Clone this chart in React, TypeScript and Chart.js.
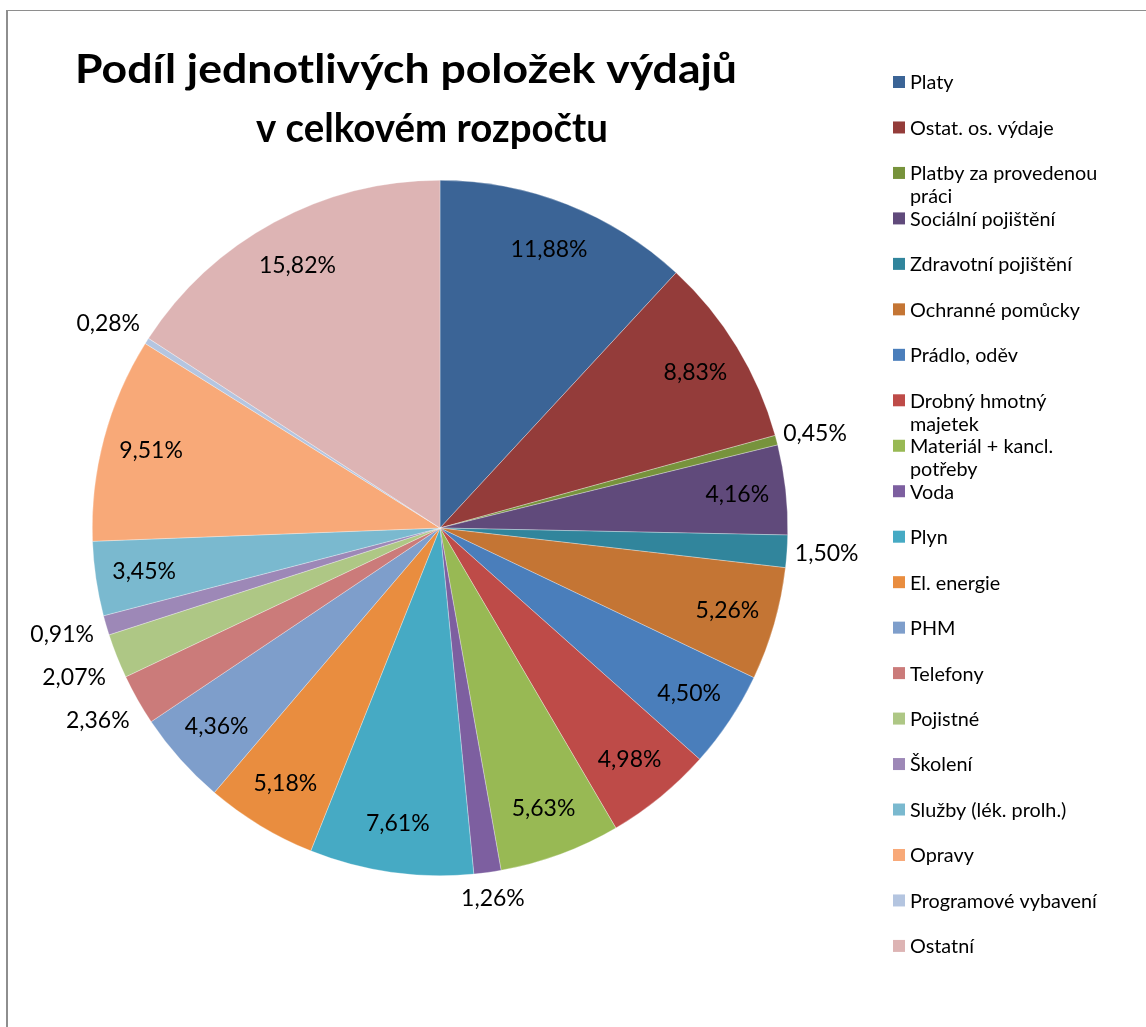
import React, { useEffect, useRef } from "react";
import { Chart, registerables } from "chart.js";

Chart.register(...registerables);

const TITLE_LINES = ["Podíl jednotlivých položek výdajů", "v celkovém rozpočtu"];

const CATEGORIES = [
  "Platy",
  "Ostat. os. výdaje",
  "Platby za provedenou práci",
  "Sociální pojištění",
  "Zdravotní pojištění",
  "Ochranné pomůcky",
  "Prádlo, oděv",
  "Drobný hmotný majetek",
  "Materiál + kancl. potřeby",
  "Voda",
  "Plyn",
  "El. energie",
  "PHM",
  "Telefony",
  "Pojistné",
  "Školení",
  "Služby (lék. prolh.)",
  "Opravy",
  "Programové vybavení",
  "Ostatní",
];

const VALUES = [
  11.88, 8.83, 0.45, 4.16, 1.5, 5.26, 4.5, 4.98, 5.63, 1.26, 7.61, 5.18, 4.36,
  2.36, 2.07, 0.91, 3.45, 9.51, 0.28, 15.82,
];

const COLORS = [
  "#3B6496",
  "#943C3A",
  "#77933C",
  "#604A7B",
  "#31859C",
  "#C47534",
  "#4A7EBB",
  "#BE4B48",
  "#98B954",
  "#7D5FA0",
  "#46AAC4",
  "#E98D3F",
  "#7E9ECB",
  "#CB7B7A",
  "#AEC785",
  "#9D88B7",
  "#7AB9CF",
  "#F8A978",
  "#B4C5E0",
  "#DDB4B4",
];

const FONT = "Lato, 'Open Sans', sans-serif";
const W = 1146;
const H = 1027;

function fitSize(ctx: CanvasRenderingContext2D, text: string, weight: string, target: number) {
  ctx.font = `${weight} 100px ${FONT}`;
  const w = ctx.measureText(text).width;
  return (100 * target) / w;
}

function wrap(ctx: CanvasRenderingContext2D, text: string, maxW: number) {
  const words = text.split(" ");
  const lines: string[] = [];
  let cur = "";
  for (const wd of words) {
    const t = cur ? cur + " " + wd : wd;
    if (ctx.measureText(t).width > maxW && cur) {
      lines.push(cur);
      cur = wd;
    } else cur = t;
  }
  if (cur) lines.push(cur);
  return lines;
}

function drawFitted(ctx: CanvasRenderingContext2D, text: string, cx: number, base: number, width: number) {
  const w = ctx.measureText(text).width;
  ctx.save();
  ctx.translate(cx, base);
  ctx.scale(width / w, 1);
  ctx.fillText(text, 0, 0);
  ctx.restore();
}

const decorPlugin = {
  id: "decor",
  afterDraw(chart: any) {
    const ctx: CanvasRenderingContext2D = chart.ctx;
    ctx.save();
    // Title
    ctx.font = `bold 40px ${FONT}`;
    ctx.fillStyle = "#000";
    ctx.textAlign = "center";
    ctx.textBaseline = "alphabetic";
    drawFitted(ctx, TITLE_LINES[0], 406, 83, 662);
    drawFitted(ctx, TITLE_LINES[1], 432, 142, 352);

    // Legend
    const ls = fitSize(ctx, "Programové vybavení", "normal", 187);
    ctx.font = `${ls}px ${FONT}`;
    ctx.textAlign = "left";
    ctx.textBaseline = "middle";
    const top = 82;
    const step = 45.47;
    CATEGORIES.forEach((c, i) => {
      const cy = top + i * step;
      ctx.fillStyle = COLORS[i];
      ctx.fillRect(893, cy - 6, 12, 12);
      ctx.fillStyle = "#000";
      const lines = wrap(ctx, c, 198);
      lines.forEach((ln, j) => ctx.fillText(ln, 910, cy + 1 + j * 23));
    });
    ctx.restore();
  },
};

const labelPlugin = {
  id: "sliceLabels",
  afterDatasetsDraw(chart: any) {
    const ctx: CanvasRenderingContext2D = chart.ctx;
    const meta = chart.getDatasetMeta(0);
    const total = VALUES.reduce((a, b) => a + b, 0);
    ctx.save();
    ctx.font = `23px ${FONT}`;
    ctx.fillStyle = "#000";
    ctx.textAlign = "center";
    ctx.textBaseline = "middle";
    const outside: { text: string; x: number; y: number; ux: number; w: number }[] = [];
    meta.data.forEach((arc: any, i: number) => {
      const { x, y, startAngle, endAngle, outerRadius } = arc.getProps(
        ["x", "y", "startAngle", "endAngle", "outerRadius"],
        true
      );
      const mid = (startAngle + endAngle) / 2;
      const ux = Math.cos(mid);
      const uy = Math.sin(mid);
      const text = VALUES[i].toFixed(2).replace(".", ",") + "%";
      const pct = (VALUES[i] / total) * 100;
      if (pct >= 3) {
        const r = outerRadius * 0.86;
        ctx.fillText(text, x + ux * r, y + uy * r);
      } else {
        const w = ctx.measureText(text).width;
        const h = 36;
        const gap = ux < 0 ? 14 : 8;
        const px = x + ux * (outerRadius + gap);
        const py = y + uy * (outerRadius + gap);
        outside.push({ text, x: px + (ux * w) / 2, y: py + (uy * h) / 2, ux, w });
      }
    });
    // simple vertical de-overlap per side
    [true, false].forEach((left) => {
      const group = outside.filter((o) => (o.ux < 0) === left).sort((a, b) => a.y - b.y);
      for (let k = 1; k < group.length; k++) {
        if (group[k].y - group[k - 1].y < 43) group[k].y = group[k - 1].y + 43;
      }
    });
    outside.forEach((o) => ctx.fillText(o.text, o.x, o.y));
    ctx.restore();
  },
};

export default function App() {
  const ref = useRef<HTMLCanvasElement | null>(null);

  useEffect(() => {
    document.body.style.margin = "0";
    document.body.style.overflow = "hidden";
    const canvas = ref.current;
    if (!canvas) return;
    const chart = new Chart(canvas, {
      type: "pie",
      data: {
        labels: CATEGORIES,
        datasets: [
          {
            data: VALUES,
            backgroundColor: COLORS,
            borderWidth: 0.5,
            borderColor: "rgba(255,255,255,0.6)",
          },
        ],
      },
      options: {
        responsive: false,
        animation: false,
        events: [],
        layout: { padding: { left: 92, right: 358, top: 180, bottom: 151 } },
        plugins: {
          legend: { display: false },
          title: { display: false },
          tooltip: { enabled: false },
        },
      },
      plugins: [labelPlugin, decorPlugin],
    });
    return () => chart.destroy();
  }, []);

  return (
    <div style={{ position: "absolute", left: 0, top: 0, width: W, height: H, background: "#fff", overflow: "hidden" }}>
      <canvas ref={ref} width={W} height={H} style={{ position: "absolute", left: 0, top: 0, width: W, height: H }} />
      <div style={{ position: "absolute", left: 6, top: 10, width: W - 6, height: 1, background: "#8E8E8E" }} />
      <div style={{ position: "absolute", left: 6, top: 10, width: 2, height: H - 10, background: "#8E8E8E" }} />
    </div>
  );
}
